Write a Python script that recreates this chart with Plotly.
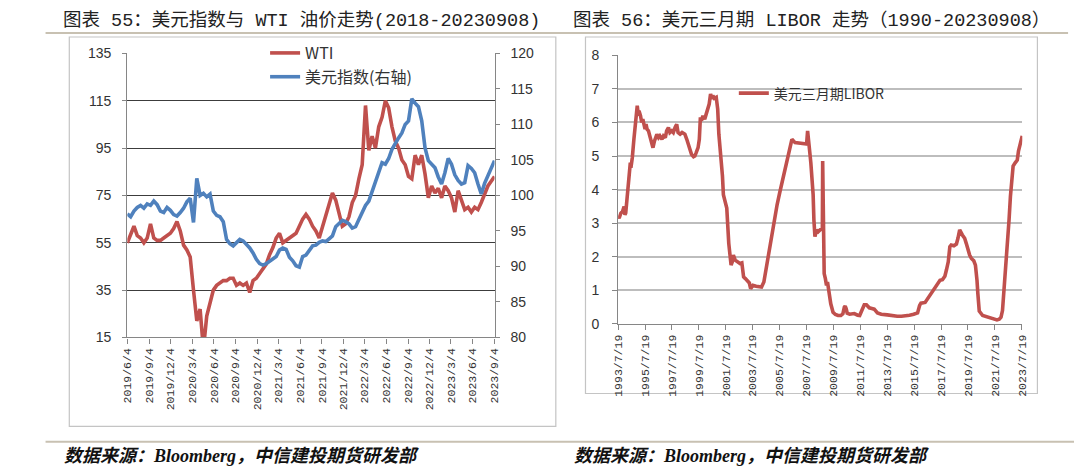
import pandas as pd
import plotly.graph_objects as go

W, H = 1080, 473

# ---------------- Left chart data (biweekly from 2019-06-04) ----------------
wti_start = "2019-06-04"
wti = [55, 59, 62, 58, 57, 55, 57, 63, 57, 56, 56, 57, 58, 59, 61, 64,
       60, 54, 52, 49, 35, 22, 27, 10, 24, 30, 35, 37, 38, 39, 39, 40,
       40, 37, 38, 37, 38, 34, 39, 40, 42, 44, 46, 50, 53, 57, 59, 55,
       56, 57, 58, 59, 62, 65, 67, 65, 62, 60, 57, 62, 66, 71, 76, 73,
       68, 62, 63, 66, 72, 75, 82, 88, 113, 94, 100, 95, 104, 108, 115, 112,
       104, 98, 95, 90, 88, 83, 82, 92, 88, 92, 84, 74, 79, 76, 78, 74,
       79, 77, 74, 68, 77, 73, 69, 70, 68, 70, 69, 72, 76, 79, 81, 83]
dxy = [97.4, 97.0, 97.8, 98.3, 98.6, 98.2, 98.8, 98.6, 99.2, 98.7, 97.8, 97.6,
       98.3, 97.9, 97.3, 97.1, 97.6, 98.2, 99.1, 99.6, 96.2, 102.4, 100.0, 100.3,
       99.8, 100.2, 97.8, 97.2, 97.0, 96.3, 93.8, 93.2, 92.9, 93.4, 93.8, 93.6,
       93.1, 92.6, 91.9, 91.0, 90.4, 90.2, 90.4, 90.7, 91.0, 91.4, 92.3, 92.6,
       92.4, 91.3, 90.8, 90.1, 89.9, 91.4, 91.6, 92.2, 92.9, 93.0, 93.4, 93.6,
       93.5, 93.9, 94.3, 95.6, 96.0, 96.5, 96.3, 96.0, 95.4, 95.6, 96.6, 97.6,
       98.6, 99.2, 100.6, 102.0, 103.5, 104.6, 104.4, 105.2, 106.5, 107.4, 108.1, 108.8,
       110.0, 110.5, 113.6, 113.0, 112.5, 110.5, 106.7, 104.9, 104.3, 103.9, 102.6, 101.6,
       103.2, 105.2, 104.4, 102.9, 102.1, 101.6, 101.8, 104.2, 103.8, 103.2, 101.6, 100.2,
       101.7, 102.8, 103.8, 104.9]
left_dates = pd.date_range(wti_start, periods=len(wti), freq="14D")
left_ticklabels = ["2019/6/4", "2019/9/4", "2019/12/4", "2020/3/4", "2020/6/4", "2020/9/4",
                   "2020/12/4", "2021/3/4", "2021/6/4", "2021/9/4", "2021/12/4", "2022/3/4",
                   "2022/6/4", "2022/9/4", "2022/12/4", "2023/3/4", "2023/6/4", "2023/9/4"]
left_y_ticks = [15, 35, 55, 75, 95, 115, 135]
left_grid = [35, 55, 75, 95, 115]
right_y_ticks = [80, 85, 90, 95, 100, 105, 110, 115, 120]

# ---------------- Right chart data: USD 3M LIBOR ----------------
libor_dates = [
    "1993-07-19", "1993-08-15", "1993-10-01", "1993-11-15", "1993-12-28", "1994-01-20", "1994-02-10",
    "1994-03-25", "1994-05-10", "1994-06-15", "1994-07-01", "1994-08-08", "1994-09-20", "1994-11-05",
    "1994-12-20", "1995-01-20", "1995-02-05", "1995-03-18", "1995-04-20", "1995-05-20", "1995-06-18",
    "1995-07-20", "1995-08-15", "1995-09-12", "1995-10-20", "1995-12-12", "1996-01-20", "1996-02-20",
    "1996-04-01", "1996-05-08", "1996-06-05", "1996-07-20", "1996-08-25", "1996-10-20", "1996-12-01",
    "1997-01-20", "1997-02-25", "1997-04-15", "1997-05-25", "1997-07-15", "1997-08-25", "1997-10-12",
    "1997-11-25", "1998-01-01", "1998-02-25", "1998-04-20", "1998-07-05", "1998-08-25", "1998-10-05",
    "1998-11-18", "1999-01-01", "1999-02-25", "1999-04-01", "1999-05-08", "1999-06-28", "1999-08-01",
    "1999-08-30", "1999-09-28", "1999-11-06", "1999-12-25", "2000-02-05", "2000-03-20", "2000-04-25",
    "2000-06-01", "2000-07-01", "2000-08-03", "2000-09-12", "2000-11-02", "2000-12-12", "2001-01-12",
    "2001-03-15", "2001-04-20", "2001-05-15", "2001-07-01", "2001-08-15", "2001-10-08", "2001-12-10",
    "2002-01-12", "2002-02-10", "2002-04-01", "2002-06-05", "2002-08-08", "2002-09-28", "2002-11-15",
    "2003-01-01", "2003-03-01", "2003-04-20", "2003-05-25", "2003-07-01", "2003-07-27", "2003-10-20",
    "2004-01-05", "2004-03-15", "2004-05-18", "2004-07-01", "2004-08-18", "2004-10-20", "2004-12-28",
    "2005-03-15", "2005-05-12", "2005-07-20", "2005-09-25", "2005-12-15", "2006-03-20", "2006-06-18",
    "2006-09-12", "2007-01-01", "2007-04-28", "2007-07-22", "2007-08-18", "2007-09-05", "2007-10-01",
    "2007-10-22", "2007-11-14", "2008-01-15", "2008-02-05", "2008-03-04", "2008-04-20", "2008-06-03",
    "2008-07-20", "2008-08-28", "2008-09-22", "2008-09-30", "2008-10-12", "2008-11-10", "2008-12-12",
    "2009-01-12", "2009-02-08", "2009-03-15", "2009-05-08", "2009-06-13", "2009-07-08", "2009-09-12",
    "2009-11-20", "2010-02-05", "2010-04-01", "2010-05-12", "2010-06-03", "2010-07-01", "2010-07-28",
    "2010-10-01", "2010-11-10", "2011-02-05", "2011-05-08", "2011-07-01", "2011-08-08", "2011-10-01",
    "2011-11-03", "2012-01-01", "2012-03-18", "2012-05-26", "2012-07-30", "2012-10-26", "2013-02-06",
    "2013-07-19", "2013-11-24", "2014-04-16", "2014-08-08", "2014-11-24", "2015-03-15", "2015-07-05",
    "2015-10-20", "2015-12-14", "2016-01-20", "2016-05-12", "2016-07-01", "2016-09-24", "2016-12-14",
    "2017-02-06", "2017-04-20", "2017-06-20", "2017-08-25", "2017-10-30", "2017-12-14", "2018-01-30",
    "2018-03-14", "2018-04-20", "2018-07-01", "2018-09-08", "2018-10-20", "2018-12-06", "2019-02-16",
    "2019-04-20", "2019-06-02", "2019-07-20", "2019-09-02", "2019-10-20", "2019-12-24", "2020-02-06",
    "2020-02-24", "2020-03-20", "2020-04-12", "2020-05-20", "2020-08-20", "2020-11-25", "2021-02-17",
    "2021-04-20", "2021-07-01", "2021-09-13", "2021-11-14", "2022-01-01", "2022-02-10", "2022-03-14",
    "2022-05-11", "2022-07-01", "2022-08-07", "2022-09-13", "2022-10-20", "2022-11-25", "2023-01-20",
    "2023-03-18", "2023-04-20", "2023-05-26", "2023-07-01", "2023-07-30"]
libor = [
    3.2, 3.15, 3.3, 3.35, 3.5, 3.25, 3.3,
    3.85, 4.6, 4.8, 4.65, 4.95, 5.5, 6.0,
    6.5, 6.2, 6.35, 6.2, 6.0, 6.1, 5.9,
    5.8, 5.95, 5.8, 5.75, 5.5, 5.4, 5.25,
    5.45, 5.6, 5.65, 5.55, 5.6, 5.5, 5.6,
    5.55, 5.75, 5.85, 5.7, 5.75, 5.7, 5.85,
    5.95, 5.7, 5.65, 5.7, 5.65, 5.5, 5.35,
    5.2, 5.05, 4.98, 5.0, 5.1, 5.25, 5.5,
    6.15, 6.05, 6.2, 6.1, 6.25, 6.35, 6.55,
    6.85, 6.7, 6.8, 6.72, 6.75, 6.4, 5.65,
    5.0, 4.4, 3.85, 3.65, 3.45, 2.4, 1.75,
    1.85, 2.05, 1.9, 1.85, 1.8, 1.82, 1.4,
    1.35, 1.28, 1.22, 1.05, 1.12, 1.15, 1.12,
    1.12, 1.1, 1.25, 1.55, 1.75, 2.2, 2.7,
    3.15, 3.55, 3.9, 4.2, 4.6, 5.1, 5.5,
    5.4, 5.38, 5.37, 5.36, 5.75, 5.45, 5.1,
    5.05, 4.8, 3.85, 3.1, 2.6, 2.8, 2.75,
    2.8, 2.82, 2.85, 4.85, 2.6, 1.5, 1.35,
    1.15, 1.25, 0.95, 0.6, 0.45, 0.35, 0.28,
    0.25, 0.25, 0.3, 0.5, 0.53, 0.45, 0.32,
    0.29, 0.3, 0.31, 0.26, 0.25, 0.35, 0.5,
    0.57, 0.57, 0.48, 0.46, 0.44, 0.33, 0.29,
    0.27, 0.24, 0.23, 0.23, 0.24, 0.26, 0.29,
    0.33, 0.55, 0.62, 0.64, 0.72, 0.87, 0.98,
    1.05, 1.17, 1.3, 1.32, 1.42, 1.62, 1.85,
    2.3, 2.35, 2.33, 2.38, 2.55, 2.8, 2.65,
    2.55, 2.4, 2.2, 2.05, 1.95, 1.88, 1.75,
    1.62, 1.3, 0.9, 0.38, 0.25, 0.22, 0.2,
    0.18, 0.14, 0.12, 0.14, 0.2, 0.4, 0.9,
    1.45, 2.3, 3.1, 3.8, 4.4, 4.7, 4.8,
    4.88, 5.15, 5.3, 5.5, 5.6]
libor_ticklabels = ["1993/7/19", "1995/7/19", "1997/7/19", "1999/7/19", "2001/7/19", "2003/7/19",
                    "2005/7/19", "2007/7/19", "2009/7/19", "2011/7/19", "2013/7/19", "2015/7/19",
                    "2017/7/19", "2019/7/19", "2021/7/19", "2023/7/19"]
libor_y_ticks = [0, 1, 2, 3, 4, 5, 6, 7, 8]

title_left = "图表 55：美元指数与 WTI 油价走势(2018-20230908)"
title_right = "图表 56：美元三月期 LIBOR 走势（1990-20230908）"
source_text = "数据来源：Bloomberg，中信建投期货研发部"

RED = "#C0504D"
BLUE = "#4F81BD"
AXC = "#868686"
TXT = "#333333"
CJK = "Noto Sans CJK SC"


def px_x(v):
    return v / W


def px_y(v):
    return 1 - v / H


def to_date(s):
    y, m, d = s.split("/")
    return f"{int(y):04d}-{int(m):02d}-{int(d):02d}"


fig = go.Figure()
fig.add_trace(go.Scatter(x=left_dates, y=wti, name="WTI", mode="lines",
                         line=dict(color=RED, width=3.6), xaxis="x", yaxis="y", legend="legend"))
fig.add_trace(go.Scatter(x=left_dates, y=dxy, name="美元指数(右轴)", mode="lines",
                         line=dict(color=BLUE, width=3.6), xaxis="x", yaxis="y2", legend="legend"))
fig.add_trace(go.Scatter(x=[], y=[], xaxis="x", yaxis="y4", showlegend=False, hoverinfo="skip"))
fig.add_trace(go.Scatter(x=libor_dates, y=libor, name="美元三月期LIBOR", mode="lines",
                         line=dict(color=RED, width=3.6), xaxis="x2", yaxis="y3", legend="legend2"))

tickfont = dict(family="Liberation Sans, " + CJK, size=14, color=TXT)
xtickfont = dict(family="Liberation Mono, " + CJK, size=11.5, color=TXT)

ly0, ly1 = px_y(341), px_y(47)
ry0, ry1 = px_y(327), px_y(49)

fig.update_layout(
    width=W, height=H, margin=dict(l=0, r=0, t=0, b=0),
    paper_bgcolor="white", plot_bgcolor="white",
    xaxis=dict(domain=[px_x(122.7), px_x(494)], anchor="y", type="date",
               range=[left_dates[0], left_dates[-1]],
               tickvals=[to_date(s) for s in left_ticklabels], ticktext=left_ticklabels,
               tickangle=-90, tickfont=xtickfont, ticks="outside", ticklen=5, tickcolor=AXC,
               showline=True, linecolor=AXC, linewidth=1.3, showgrid=False, zeroline=False),
    yaxis=dict(domain=[ly0, ly1], anchor="x", range=[15, 135], tickvals=left_y_ticks,
               tickfont=tickfont, ticks="outside", ticklen=4, tickcolor=AXC, ticklabelstandoff=8,
               showline=True, linecolor=AXC, linewidth=1.3, showgrid=False, zeroline=False),
    yaxis2=dict(overlaying="y", side="right", anchor="x", range=[80, 120], tickvals=right_y_ticks,
                tickfont=tickfont, ticks="outside", ticklen=4, tickcolor=AXC, ticklabelstandoff=8,
                showline=True, linecolor=AXC, linewidth=1.3, showgrid=False, zeroline=False),
    yaxis4=dict(overlaying="y", side="left", anchor="x", range=[15, 135], tickvals=left_grid,
                showticklabels=False, ticks="", showline=False, showgrid=True,
                gridcolor="#3C3C3C", gridwidth=1.2, zeroline=False),
    xaxis2=dict(domain=[px_x(619), px_x(1027.7)], anchor="y3", type="date",
                range=["1993-07-19", "2023-08-01"],
                tickvals=[to_date(s) for s in libor_ticklabels], ticktext=libor_ticklabels,
                tickangle=-90, tickfont=xtickfont, ticks="outside", ticklen=5, tickcolor=AXC,
                showline=True, linecolor=AXC, linewidth=1.3, showgrid=False, zeroline=False),
    yaxis3=dict(domain=[ry0, ry1], anchor="x2", range=[0, 8], tickvals=libor_y_ticks,
                tickfont=tickfont, ticks="outside", ticklen=5, tickcolor=AXC, ticklabelstandoff=10,
                showline=True, linecolor=AXC, linewidth=1.3, showgrid=True,
                gridcolor="#BDBDBD", gridwidth=1.6, zeroline=False),
    legend=dict(x=px_x(262), y=px_y(29), xanchor="left", yanchor="top", bgcolor="rgba(0,0,0,0)",
                font=dict(family=CJK, size=16, color=TXT), itemwidth=30, tracegroupgap=0),
    legend2=dict(x=px_x(736), y=px_y(72), xanchor="left", yanchor="top", bgcolor="rgba(0,0,0,0)",
                 font=dict(family=CJK, size=14, color=TXT), itemwidth=30),
    showlegend=True,
)

shapes = [
    dict(type="rect", xref="paper", yref="paper", x0=px_x(64), x1=px_x(556), y0=px_y(433), y1=px_y(30),
         line=dict(color="#C4C4C4", width=1.2), fillcolor="rgba(0,0,0,0)", layer="below"),
    dict(type="rect", xref="paper", yref="paper", x0=px_x(586), x1=px_x(1043), y0=px_y(399), y1=px_y(30),
         line=dict(color="#C4C4C4", width=1.2), fillcolor="rgba(0,0,0,0)", layer="below"),
    dict(type="line", xref="paper", yref="paper", x0=px_x(40), x1=px_x(1074), y0=px_y(26), y1=px_y(26),
         line=dict(color="#C8C1B2", width=2)),
    dict(type="line", xref="paper", yref="paper", x0=px_x(40), x1=1, y0=px_y(449), y1=px_y(449),
         line=dict(color="#C8C1B2", width=2)),
]
fig.update_layout(shapes=shapes)

title_font = dict(family="Liberation Mono, " + CJK, size=18.5, color="#222222")
src_font = dict(family="Liberation Serif, " + CJK, size=18, color="#111111", style="italic", weight="bold")
fig.add_annotation(xref="paper", yref="paper", x=px_x(56), y=px_y(13), xanchor="left", yanchor="middle",
                   text=title_left, showarrow=False, font=title_font)
fig.add_annotation(xref="paper", yref="paper", x=px_x(571), y=px_y(13), xanchor="left", yanchor="middle",
                   text=title_right, showarrow=False, font=title_font)
fig.add_annotation(xref="paper", yref="paper", x=px_x(57), y=px_y(464), xanchor="left", yanchor="middle",
                   text=source_text, showarrow=False, font=src_font)
fig.add_annotation(xref="paper", yref="paper", x=px_x(572), y=px_y(464), xanchor="left", yanchor="middle",
                   text=source_text, showarrow=False, font=src_font)

fig.write_html("out.html")
